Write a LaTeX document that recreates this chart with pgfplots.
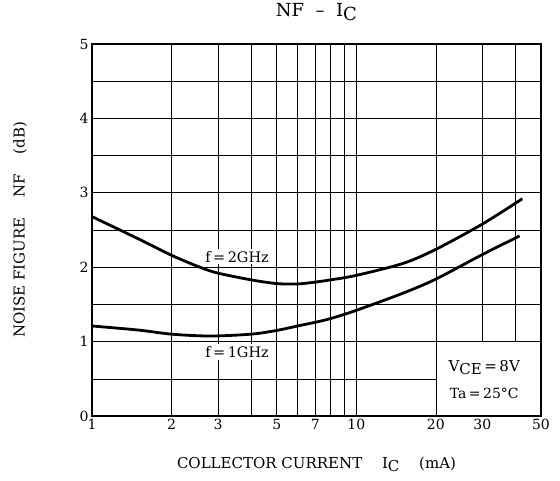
\documentclass[border=0pt]{standalone}
\usepackage{pgfplots}
\pgfplotsset{compat=1.18}
\usepackage{fontspec}
\setmainfont{DejaVu Serif}

% lowered subscript in the same face, as in data-sheet lettering
\newcommand{\lsub}[1]{\raisebox{-0.45ex}{#1}}
\newcommand{\eq}{\hspace{2.5pt}=\hspace{2.5pt}}

\begin{document}
\begin{tikzpicture}
\useasboundingbox (-92pt,-64pt) rectangle (468pt,416pt);
\begin{axis}[
  at={(0,0)}, anchor=south west,
  scale only axis, width=449pt, height=372pt,
  xmode=log, xmin=1, xmax=50, ymin=0, ymax=5,
  xtick={1,2,3,4,5,6,7,8,9,10,20,30,40,50},
  xticklabels={1,2,3,,5,,7,,,10,20,30,,50},
  ytick={0,1,2,3,4,5},
  minor ytick={0.5,1.5,2.5,3.5,4.5},
  grid=both,
  major grid style={black, line width=0.65pt},
  minor grid style={black, line width=0.5pt},
  major tick length=0pt, minor tick length=0pt,
  axis line style={line width=1.5pt},
  tick label style={font=\fontsize{14}{14}\selectfont},
  /pgf/number format/assume math mode=true,
  log ticks with fixed point,
  title={NF \ – \ I\lsub{C}},
  title style={font=\fontsize{18}{18}\selectfont, at={(axis description cs:0.5,1.07)}, anchor=center},
  xlabel={COLLECTOR CURRENT \quad I\lsub{C} \quad (mA)},
  xlabel style={font=\fontsize{15}{16}\selectfont, at={(axis description cs:0.5,-0.13)}, anchor=center},
  ylabel={NOISE FIGURE \quad NF \quad (dB)},
  ylabel style={font=\fontsize{15}{16}\selectfont, at={(axis description cs:-0.16,0.5)}, anchor=center},
]
% f = 2 GHz
\addplot[black, line width=2.8pt, smooth] coordinates {
  (1,2.68) (1.5,2.38) (2,2.16) (2.56,2.0) (3,1.92) (4,1.83)
  (5,1.78) (6,1.775) (7,1.80) (8,1.83) (10,1.89) (15,2.05) (20,2.24)
  (30,2.58) (42.5,2.92)
};
% f = 1 GHz
\addplot[black, line width=2.8pt, smooth] coordinates {
  (1,1.21) (1.5,1.155) (2,1.10) (2.8,1.075) (4,1.10) (5,1.15) (6,1.21)
  (7,1.26) (8,1.31) (10,1.42) (15,1.65) (20,1.84) (30,2.17) (41.5,2.42)
};
\node[fill=white, inner sep=2pt, font=\fontsize{14.5}{15}\selectfont] at (axis cs:3.54,2.14) {f\eq 2GHz};
\node[fill=white, inner sep=2pt, font=\fontsize{14.5}{15}\selectfont] at (axis cs:3.54,0.86) {f\eq 1GHz};
% conditions box
\fill[white] (axis cs:20,0) rectangle (axis cs:50,1);
\draw[black, line width=0.65pt] (axis cs:20,0) -- (axis cs:20,1) -- (axis cs:50,1);
\node[font=\fontsize{15}{15}\selectfont] at (axis cs:30.5,0.65) {V\lsub{CE}\eq 8V};
\node[font=\fontsize{14}{15}\selectfont] at (axis cs:30.5,0.31) {Ta\eq 25°C};
\draw[black, line width=1.5pt] (rel axis cs:0,0) rectangle (rel axis cs:1,1);
\end{axis}
\end{tikzpicture}
\end{document}
